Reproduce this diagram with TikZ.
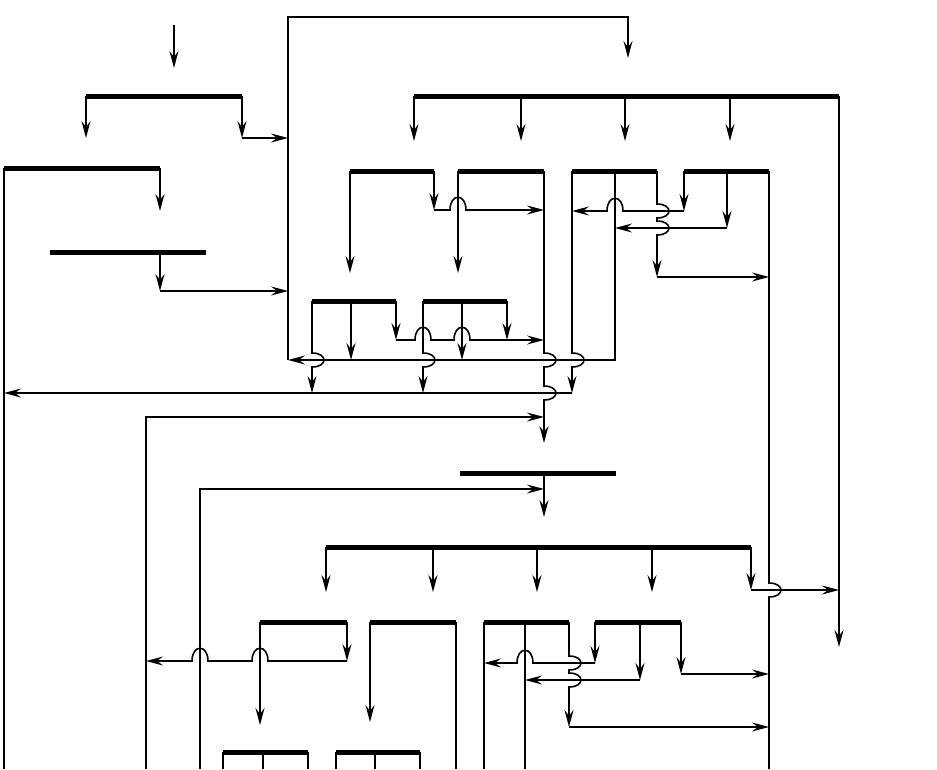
\documentclass[tikz,border=0pt]{standalone}
\usepackage{tikz}
\usetikzlibrary{arrows.meta}
\begin{document}
\begin{tikzpicture}[x=1pt,y=-1pt]
\tikzset{bar/.style = {line width=5pt}}
\tikzset{wire/.style = {line width=1.6pt}}
\tikzset{edge/.style = {wire,-{Stealth[length=17pt,width=9pt,inset=6pt]}}}
\useasboundingbox (0,0) rectangle (937,769);
% bars
\foreach \n/\a/\b/\y in {1/86/242/96, 2/4/160/168, 3/50/206/252, 4/414/839/96,
  5/350/434/171, 6/458/544/171, 9/572/657/171, 10/684/769/171,
  7/312/396/301, 8/423/507/301, 11/460/616/473, 12/326/751/547,
  15/260/347/622, 16/370/456/622, 13/484/569/622, 14/595/681/622,
  17/223/308/752, 18/336/420/752}
{
  \coordinate (b\n-l) at (\a,\y);
  \coordinate (b\n-r) at (\b,\y);
  \draw[bar] (b\n-l) -- (b\n-r);
}
\coordinate (b3-m) at (160,252);
\coordinate (b9-m) at (615,171);
\coordinate (b10-m) at (727,171);
\coordinate (b7-m) at (351,301);
\coordinate (b8-m) at (462,301);
\coordinate (b11-m) at (544,473);
\coordinate (b13-m) at (525,622);
\coordinate (b14-m) at (640,622);
% input and first level
\coordinate (in) at (174,25);
\coordinate (in-e) at (174,68);
\draw[edge] (in) -- (in-e);
\coordinate (o1l) at (86,138);
\coordinate (o1r) at (242,138);
\coordinate (ret-a) at (288,17);
\coordinate (ret-b) at (628,17);
\coordinate (ret-c) at (628,58);
\coordinate (ret-d) at (288,360);
\draw[edge] (b1-l) -- (o1l);
\draw[edge] (b1-r) -- (o1r);
\draw[edge] (o1r) -- (o1r -| ret-a);
\coordinate (o2r) at (160,211);
\coordinate (o2l) at (4,769);
\draw[edge] (b2-r) -- (o2r);
\draw[wire] (b2-l) -- (o2l);
\coordinate (o3m) at (160,291);
\draw[edge] (b3-m) -- (o3m);
\draw[edge] (o3m) -- (o3m -| ret-a);
\draw[edge,line width=1.2pt] (ret-d) -- (ret-a) -- (ret-b) -- (ret-c);
% second level
\foreach \n/\x in {a/414,b/521,c/625,d/730} {
  \coordinate (f4\n) at (\x,96);
  \coordinate (g4\n) at (\x,141);
  \draw[edge] (f4\n) -- (g4\n);
}
\coordinate (o4r) at (839,647);
\draw[edge] (b4-r) -- (o4r);
% bars 5 and 6
\coordinate (o5l) at (350,273);
\coordinate (o5r) at (434,210);
\draw[edge] (b5-l) -- (o5l);
\draw[edge] (b5-r) -- (o5r);
\draw[edge] (o5r) -- (450,210) .. controls +(0,-17) and +(0,-17) .. (466,210) -- (o5r -| b6-r);
\coordinate (o6l) at (458,273);
\coordinate (o6r) at (544,443);
\draw[edge] (b6-l) -- (o6l);
\draw[edge] (b6-r) -- (544,353) .. controls +(16,0) and +(16,0) .. (544,367)
  -- (544,386) .. controls +(16,0) and +(16,0) .. (544,400) -- (o6r);
% bars 9 and 10
\coordinate (o9l) at (572,393);
\coordinate (o9r) at (657,277);
\coordinate (c9m) at (615,360);
\draw[edge] (b9-l) -- (572,353) .. controls +(16,0) and +(16,0) .. (572,367) -- (o9l);
\draw[edge] (b9-m) -- (c9m) -- (ret-d);
\draw[edge] (b9-r) -- (657,204) .. controls +(16,0) and +(16,0) .. (657,218)
  -- (657,221) .. controls +(16,0) and +(16,0) .. (657,235) -- (o9r);
\draw[edge] (o9r) -- (o9r -| b10-r);
\draw[edge] (o9l) -- (o9l -| b2-l);
\coordinate (o10l) at (684,211);
\coordinate (o10m) at (727,228);
\coordinate (o10r) at (769,769);
\draw[edge] (b10-l) -- (o10l);
\draw[edge] (o10l) -- (623,211) .. controls +(0,-17) and +(0,-17) .. (607,211) -- (o10l -| b9-l);
\draw[edge] (b10-m) -- (o10m);
\draw[edge] (o10m) -- (o10m -| b9-m);
\draw[wire] (b10-r) -- (769,583) .. controls +(16,0) and +(16,0) .. (769,597) -- (o10r);
% bars 7 and 8
\coordinate (o7l) at (312,393);
\coordinate (o7m) at (351,360);
\coordinate (o7r) at (396,340);
\draw[edge] (b7-l) -- (312,353) .. controls +(16,0) and +(16,0) .. (312,367) -- (o7l);
\draw[edge] (b7-m) -- (o7m);
\draw[edge] (b7-r) -- (o7r);
\draw[edge] (o7r) -- (415,340) .. controls +(0,-17) and +(0,-17) .. (431,340)
  -- (454,340) .. controls +(0,-17) and +(0,-17) .. (470,340) -- (o7r -| b6-r);
\coordinate (o8l) at (423,393);
\coordinate (o8m) at (462,360);
\coordinate (o8r) at (507,340);
\draw[edge] (b8-l) -- (423,353) .. controls +(16,0) and +(16,0) .. (423,367) -- (o8l);
\draw[edge] (b8-m) -- (o8m);
\draw[edge] (b8-r) -- (o8r);
% long feeds
\coordinate (f146) at (146,769);
\coordinate (k146) at (146,417);
\draw[edge] (f146) -- (k146) -- (k146 -| b6-r);
\coordinate (f200) at (200,769);
\coordinate (k200) at (200,489);
\draw[edge] (f200) -- (k200) -- (k200 -| b11-m);
% third level
\coordinate (o11) at (544,517);
\draw[edge] (b11-m) -- (o11);
\foreach \n/\x in {a/326,b/433,c/537,d/652} {
  \coordinate (f12\n) at (\x,547);
  \coordinate (g12\n) at (\x,592);
  \draw[edge] (f12\n) -- (g12\n);
}
\coordinate (o12r) at (751,590);
\draw[edge] (b12-r) -- (o12r);
\draw[edge] (o12r) -- (o12r -| b4-r);
% bars 15 and 16
\coordinate (o15l) at (260,725);
\coordinate (o15r) at (347,661);
\draw[edge] (b15-l) -- (o15l);
\draw[edge] (b15-r) -- (o15r);
\draw[edge] (o15r) -- (268,661) .. controls +(0,-17) and +(0,-17) .. (252,661)
  -- (208,661) .. controls +(0,-17) and +(0,-17) .. (192,661) -- (o15r -| f146);
\coordinate (o16l) at (370,722);
\coordinate (o16r) at (456,769);
\draw[edge] (b16-l) -- (o16l);
\draw[wire] (b16-r) -- (o16r);
% bars 13 and 14
\coordinate (o13l) at (484,769);
\coordinate (o13m) at (525,769);
\coordinate (o13r) at (569,727);
\draw[wire] (b13-l) -- (o13l);
\draw[wire] (b13-m) -- (o13m);
\draw[edge] (b13-r) -- (569,656) .. controls +(16,0) and +(16,0) .. (569,670)
  -- (569,673) .. controls +(16,0) and +(16,0) .. (569,687) -- (o13r);
\draw[edge] (o13r) -- (o13r -| b10-r);
\coordinate (o14l) at (595,663);
\coordinate (o14m) at (640,680);
\coordinate (o14r) at (681,674);
\draw[edge] (b14-l) -- (o14l);
\draw[edge] (o14l) -- (533,663) .. controls +(0,-17) and +(0,-17) .. (517,663) -- (o14l -| b13-l);
\draw[edge] (b14-m) -- (o14m);
\draw[edge] (o14m) -- (o14m -| b13-m);
\draw[edge] (b14-r) -- (o14r);
\draw[edge] (o14r) -- (o14r -| b10-r);
% fourth level
\foreach \n/\x in {a/223,b/263,c/308,d/336,e/375,f/420} {
  \coordinate (f17\n) at (\x,752);
  \coordinate (g17\n) at (\x,769);
  \draw[wire] (f17\n) -- (g17\n);
}
\end{tikzpicture}
\end{document}
